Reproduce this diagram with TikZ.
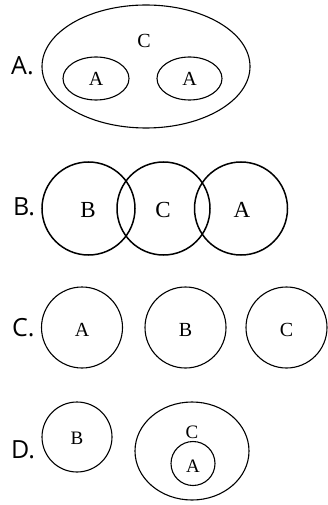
\documentclass[tikz,border=0pt]{standalone}
\usepackage{fontspec}
\setmainfont{Liberation Serif}
\newfontfamily\labfont{Open Sans}
\usetikzlibrary{shapes.geometric}
\begin{document}
\begin{tikzpicture}[x=1pt,y=-1pt,
  shp/.style={draw, ellipse, inner sep=0pt, line width=1.1pt},
  thick shp/.style={shp, line width=1.5pt},
  letter/.style={font=\fontsize{20}{20}\selectfont, inner sep=0pt},
  big letter/.style={font=\fontsize{23}{23}\selectfont, inner sep=0pt},
  small letter/.style={font=\fontsize{19}{19}\selectfont, inner sep=0pt},
  opt/.style={font=\labfont\fontsize{25}{25}\selectfont, inner sep=0pt, anchor=west}]
\useasboundingbox (0,0) rectangle (327,505);
% Option A
\node[opt] (la) at (11,66) {A.};
\node[shp, minimum width=208pt, minimum height=123pt] (aC) at (146,66.5) {};
\node[shp, minimum width=66pt, minimum height=43pt] (aA1) at (96,78.5) {};
\node[shp, minimum width=65pt, minimum height=43pt] (aA2) at (189.5,78.5) {};
\node[letter] (taC) at (144,41) {C};
\node[letter] (taA1) at (96,79) {A};
\node[letter] (taA2) at (189.5,79) {A};
% Option B
\node[opt] (lb) at (13,206.5) {B.};
\node[thick shp, minimum width=93pt, minimum height=93pt] (bB) at (88.5,208.5) {};
\node[thick shp, minimum width=93pt, minimum height=93pt] (bC) at (163.5,208.5) {};
\node[thick shp, minimum width=93pt, minimum height=93pt] (bA) at (241,208.5) {};
\node[big letter] (tbB) at (88,210) {B};
\node[big letter] (tbC) at (163,210) {C};
\node[big letter] (tbA) at (242,210) {A};
% Option C
\node[opt] (lc) at (12,327.5) {C.};
\node[shp, minimum width=81pt, minimum height=81pt] (cA) at (82,327.5) {};
\node[shp, minimum width=81pt, minimum height=81pt] (cB) at (185.5,327.5) {};
\node[shp, minimum width=81pt, minimum height=81pt] (cC) at (286.5,327.5) {};
\node[letter] (tcA) at (82,330) {A};
\node[letter] (tcB) at (185.5,330) {B};
\node[letter] (tcC) at (286.5,330) {C};
% Option D
\node[opt] (ld) at (11,450) {D.};
\node[shp, minimum width=70pt, minimum height=70pt] (dB) at (77,437) {};
\node[shp, minimum width=114pt, minimum height=98pt] (dC) at (192,451) {};
\node[shp, minimum width=44pt, minimum height=44pt] (dA) at (193,463.5) {};
\node[small letter] (tdB) at (77,438) {B};
\node[small letter] (tdC) at (192,432) {C};
\node[small letter] (tdA) at (193,466) {A};
\end{tikzpicture}
\end{document}
